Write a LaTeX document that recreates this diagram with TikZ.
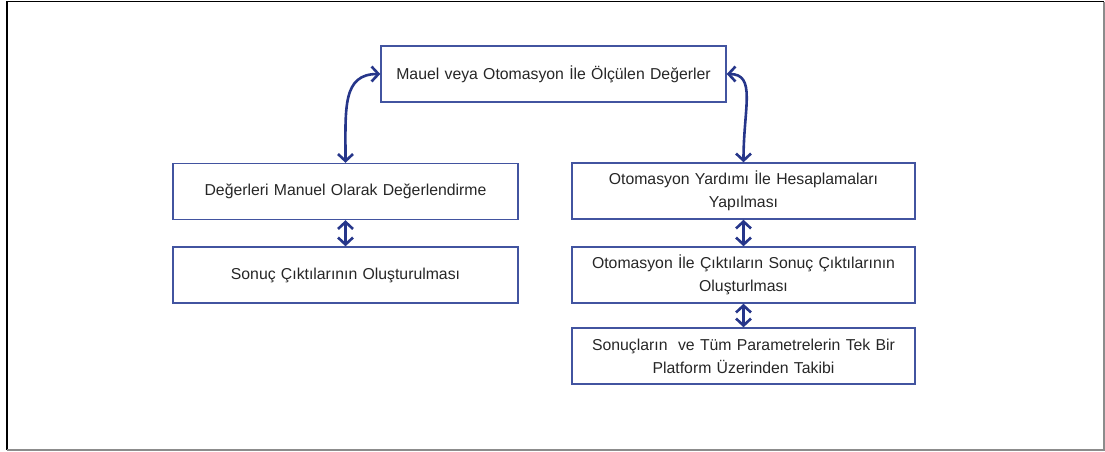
\documentclass[tikz,border=0pt]{standalone}
\usepackage{fontspec}
\setmainfont{Liberation Sans}
\usetikzlibrary{arrows.meta}
\definecolor{boxline}{RGB}{66,84,160}
\definecolor{arrowblue}{RGB}{38,54,138}
\definecolor{framegray}{RGB}{140,140,140}
\begin{document}
\begin{tikzpicture}[x=1pt,y=-1pt,
  stagebox/.style={draw=boxline,line width=1.4pt,rectangle,
    minimum width=345pt,minimum height=56pt,text width=335pt,align=center,
    inner sep=0pt,font=\fontsize{15.8}{23}\selectfont,text=black!85},
  link/.style={draw=arrowblue,line width=2.6pt,
    {Straight Barb[length=7pt,width=15pt,line width=2.6pt]}-{Straight Barb[length=7pt,width=15pt,line width=2.6pt]}}]
  \useasboundingbox (0,0) rectangle (1105,451);
  % outer frame
  \draw[black,line width=1.6pt] (7,450) -- (7,1.5) -- (1104,1.5);
  \draw[framegray,line width=1.4pt] (1104,1.5) -- (1104,450) -- (7,450);

  \node[stagebox] (top) at (553.5,74) {Mauel veya Otomasyon İle Ölçülen Değerler};
  \node[stagebox] (l1) at (345.5,191.5) {Değerleri Manuel Olarak Değerlendirme};
  \node[stagebox] (l2) at (345.5,275) {Sonuç Çıktılarının Oluşturulması};
  \node[stagebox,minimum width=343pt] (r1) at (743.5,191) {Otomasyon Yardımı İle Hesaplamaları\\Yapılması};
  \node[stagebox,minimum width=343pt] (r2) at (743.5,275) {Otomasyon İle Çıktıların Sonuç Çıktılarının\\Oluşturlması};
  \node[stagebox,minimum width=343pt] (r3) at (743.5,356) {Sonuçların\ \ ve Tüm Parametrelerin Tek Bir\\Platform Üzerinden Takibi};

  \draw[link] (top.west) .. controls +(-38,0) and +(0,-55) .. (l1.north);
  \draw[link] (top.east) .. controls +(30,0) and +(0,-55) .. (r1.north);
  \draw[link] (l1.south) -- (l2.north);
  \draw[link] (r1.south) -- (r2.north);
  \draw[link] (r2.south) -- (r3.north);
\end{tikzpicture}
\end{document}
